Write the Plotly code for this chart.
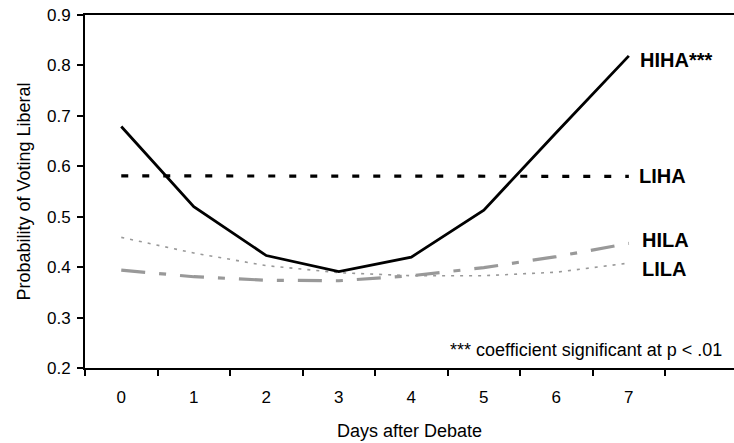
import plotly.graph_objects as go

days = [0, 1, 2, 3, 4, 5, 6, 7]
day_labels = ["0", "1", "2", "3", "4", "5", "6", "7"]
hiha = [0.679, 0.520, 0.423, 0.391, 0.420, 0.513, 0.667, 0.819]
liha = [0.581, 0.581, 0.581, 0.580, 0.580, 0.580, 0.580, 0.580]
hila = [0.394, 0.381, 0.374, 0.373, 0.383, 0.399, 0.421, 0.447]
lila = [0.459, 0.428, 0.403, 0.389, 0.383, 0.383, 0.390, 0.408]
series_names = ["HIHA***", "LIHA", "HILA", "LILA"]
y_ticks = [0.2, 0.3, 0.4, 0.5, 0.6, 0.7, 0.8, 0.9]

FONT = "Liberation Sans, Arial, sans-serif"

fig = go.Figure()
fig.add_trace(go.Scatter(x=days, y=lila, mode="lines", name="LILA",
                         line=dict(color="#999999", width=1.6, dash="3px,6px")))
fig.add_trace(go.Scatter(x=days, y=hila, mode="lines", name="HILA",
                         line=dict(color="#999999", width=3.2, dash="24px,14px,7px,14px")))
fig.add_trace(go.Scatter(x=days, y=liha, mode="lines", name="LIHA",
                         line=dict(color="#000000", width=3.2, dash="7px,14px")))
fig.add_trace(go.Scatter(x=days, y=hiha, mode="lines", name="HIHA",
                         line=dict(color="#000000", width=2.8)))

label_y = [hiha[-1] - 0.009, liha[-1], hila[-1] + 0.006, lila[-1] - 0.012]
label_x = [7.12, 7.11, 7.15, 7.15]
for name, lx, ly in zip(series_names, label_x, label_y):
    fig.add_annotation(x=lx, y=ly, xref="x", yref="y", text="<b>" + name + "</b>",
                       showarrow=False, xanchor="left", yanchor="middle",
                       font=dict(family=FONT, size=20, color="#000"))

fig.add_annotation(x=0.985, y=0.236, xref="paper", yref="y",
                   text="*** coefficient significant at p < .01", showarrow=False,
                   xanchor="right", yanchor="middle",
                   font=dict(family=FONT, size=18, color="#000"))

fig.update_layout(
    width=734, height=443,
    margin=dict(l=85, r=0, t=15, b=75, autoexpand=False),
    paper_bgcolor="white", plot_bgcolor="white",
    showlegend=False,
    font=dict(family=FONT, size=17, color="#000"),
    xaxis=dict(
        range=[-0.5, 8.45], tickvals=days, ticktext=day_labels,
        ticks="outside", ticklen=13, tickcolor="rgba(0,0,0,0)",
        minor=dict(tickvals=[-0.5, 0.5, 1.5, 2.5, 3.5, 4.5, 5.5, 6.5, 7.5],
                   ticks="outside", ticklen=6, tickwidth=2, tickcolor="#000"),
        showline=True, linecolor="#000", linewidth=2, mirror=True,
        showgrid=False, zeroline=False,
        title=dict(text="Days after Debate", standoff=18,
                   font=dict(family=FONT, size=18)),
        tickfont=dict(family=FONT, size=17),
    ),
    yaxis=dict(
        range=[0.2, 0.9], tickvals=y_ticks, tickformat=".1f",
        ticks="outside", ticklen=6, tickwidth=2, tickcolor="#000",
        ticklabelstandoff=3,
        showline=True, linecolor="#000", linewidth=2,
        showgrid=False, zeroline=False,
        title=dict(text="Probability of Voting Liberal", standoff=12,
                   font=dict(family=FONT, size=18)),
        tickfont=dict(family=FONT, size=17),
    ),
)

fig.write_html("out.html", config={"displayModeBar": False},
               post_script="document.body.style.margin='0';")
